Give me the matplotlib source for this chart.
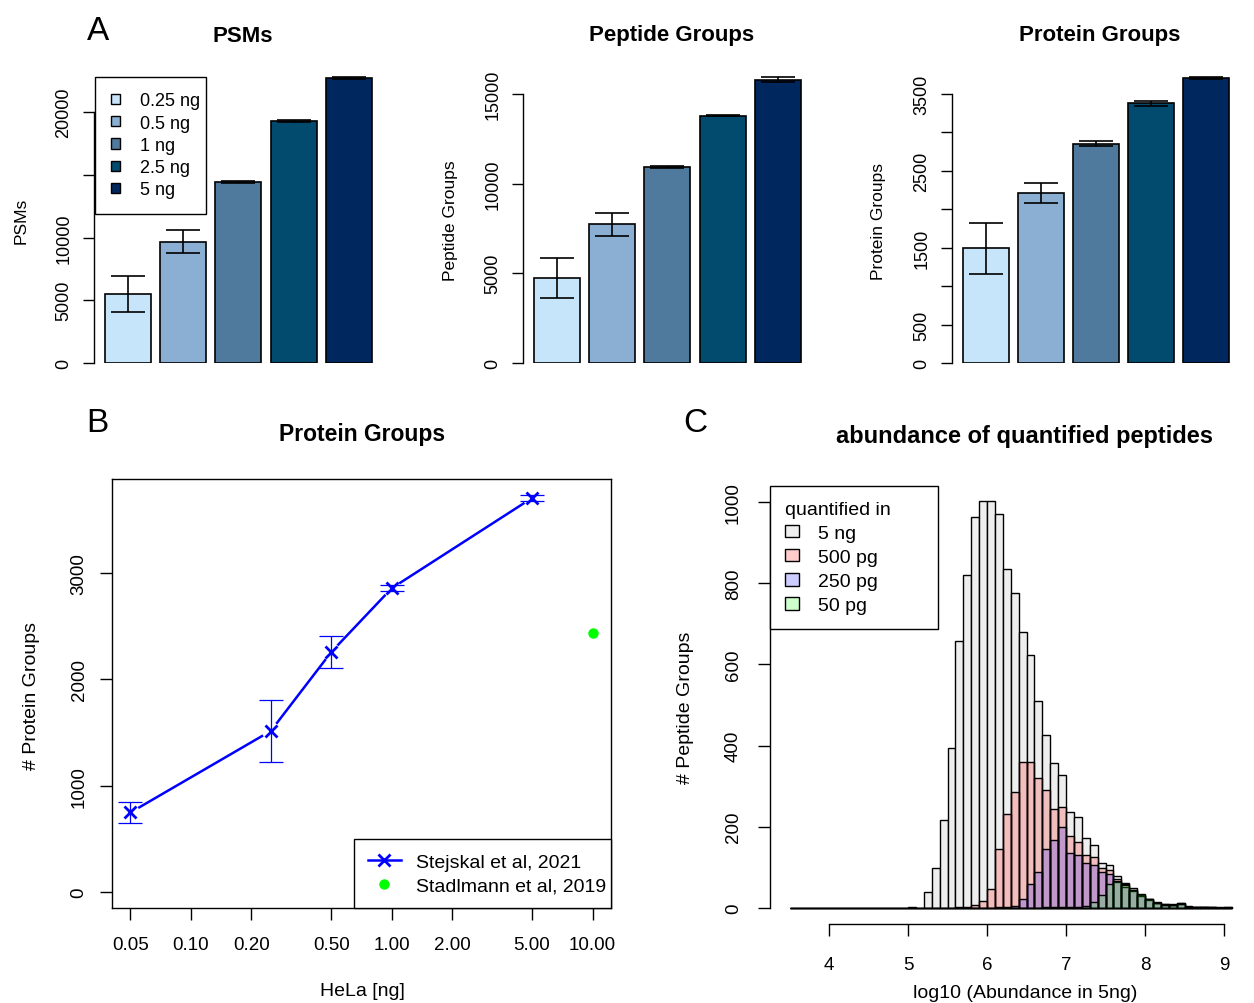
import numpy as np
import matplotlib
matplotlib.use("Agg")
import matplotlib.pyplot as plt
from matplotlib.patches import Patch
from matplotlib.lines import Line2D
from matplotlib.ticker import NullLocator

plt.rcParams["font.family"] = ["Liberation Sans", "DejaVu Sans"]
plt.rcParams["axes.linewidth"] = 1.0

# %% data
# A: barplots (mean, sd)
amounts = ["0.25 ng", "0.5 ng", "1 ng", "2.5 ng", "5 ng"]
amount_colors = ["#C6E4FA", "#8AAFD3", "#4F7A9E", "#024A6E", "#00285E"]

psm_mean = [5510, 9690, 14440, 19320, 22750]
psm_sd = [1410, 900, 80, 80, 60]
pep_mean = [4720, 7720, 10920, 13790, 15800]
pep_sd = [1110, 630, 60, 50, 140]
prot_mean = [1490, 2215, 2855, 3378, 3708]
prot_sd = [330, 130, 28, 30, 12]

# B: protein groups vs HeLa amount
hela_ng = [0.05, 0.25, 0.5, 1, 5]
pg_mean = [749, 1516, 2258, 2858, 3707]
pg_sd = [96, 290, 154, 29, 29]
stad_ng = [10]
stad_pg = [2440]

# C: histogram counts, bins of 0.1 starting at 3.5
bin_lo = 3.5
bin_w = 0.1
cnt_5ng = [0, 0, 0, 0, 0, 0, 0, 0, 0, 0, 0, 0, 0, 0, 0,
           3, 0, 38, 97, 217, 394, 658, 820, 964, 1004,
           1004, 970, 836, 777, 680, 624, 511, 426, 356, 328,
           237, 224, 172, 154, 110, 106, 79, 62, 48, 32,
           22, 15, 10, 9, 13, 4, 1, 3, 1, 1, 1]
cnt_500pg = [0, 0, 0, 0, 0, 0, 0, 0, 0, 0, 0, 0, 0, 0, 0,
             0, 0, 0, 0, 0, 0, 1, 3, 8, 17,
             47, 146, 231, 285, 360, 360, 319, 290, 244, 248,
             177, 161, 129, 124, 98, 93, 72, 58, 45, 31,
             21, 13, 9, 8, 11, 3, 1, 2, 1, 0, 1]
cnt_250pg = [0, 0, 0, 0, 0, 0, 0, 0, 0, 0, 0, 0, 0, 0, 0,
             0, 0, 0, 0, 0, 0, 0, 0, 0, 0,
             0, 1, 2, 4, 22, 59, 89, 145, 168, 198,
             136, 131, 110, 106, 88, 84, 64, 52, 42, 30,
             20, 12, 8, 7, 10, 3, 1, 2, 1, 0, 0]
cnt_50pg = [0, 0, 0, 0, 0, 0, 0, 0, 0, 0, 0, 0, 0, 0, 0,
            0, 0, 0, 0, 0, 0, 0, 0, 0, 0,
            0, 0, 0, 0, 0, 0, 0, 1, 1, 2,
            2, 3, 5, 15, 31, 58, 65, 57, 45, 34,
            22, 12, 7, 7, 9, 2, 1, 2, 0, 0, 0]
hist_labels = ["5 ng", "500 pg", "250 pg", "50 pg"]
hist_colors = ["#EEEEEE", (1, 0, 0, 0.2), (0, 0, 1, 0.2), (0, 1, 0, 0.2)]

# %% figure helpers (pixel layout)
W, H = 1254, 1004
fig = plt.figure(figsize=(W / 100, H / 100), dpi=100)


def px_axes(l, t, r, b):
    return fig.add_axes([l / W, 1 - b / H, (r - l) / W, (b - t) / H])


def px_text(x, y, s, **kw):
    fig.text(x / W, 1 - y / H, s, ha="center", va="center", **kw)


def r_pad(lo, hi):
    pad = 0.04 * (hi - lo)
    return lo - pad, hi + pad


def rot_ylabels(ax):
    for lab in ax.get_yticklabels():
        lab.set_rotation(90)
        lab.set_va("center")


def box_legend(leg):
    leg.get_frame().set_linewidth(1.0)
    return leg


# %% A: bar plots
def bar_panel(ax, means, sds, ticks, shown):
    pos = 0.7 + 1.2 * np.arange(len(means))
    ax.bar(pos, means, width=1, color=amount_colors, edgecolor="black", linewidth=1.2)
    eb = ax.errorbar(pos, means, yerr=sds, fmt="none", ecolor="black",
                     elinewidth=1.2, capsize=12, capthick=1.2)
    for art in list(eb.lines[1]) + list(eb.lines[2]):
        art.set_clip_on(False)
    ax.set_xlim(r_pad(0.2, 6.2))
    ax.set_ylim(0, max(np.array(means) + np.array(sds)))
    for s in ["top", "right", "bottom"]:
        ax.spines[s].set_visible(False)
    ax.spines["left"].set_bounds(ticks[0], ticks[-1])
    ax.set_xticks([])
    ax.set_yticks(ticks)
    ax.set_yticklabels([str(t) if t in shown else "" for t in ticks])
    ax.tick_params(axis="y", length=7.7, width=1, labelsize=13, pad=8)
    rot_ylabels(ax)


ax1 = px_axes(94, 78, 392, 364)
bar_panel(ax1, psm_mean, psm_sd, [0, 5000, 10000, 15000, 20000], [0, 5000, 10000, 20000])
box_legend(ax1.legend([Patch(facecolor=c, edgecolor="black", linewidth=1) for c in amount_colors],
                      amounts, loc="upper left", bbox_to_anchor=(0.005, 1, 111 / 298, 0),
                      mode="expand", borderaxespad=0, fontsize=13, fancybox=False,
                      edgecolor="black", framealpha=1, handlelength=0.5, handleheight=0.5,
                      handletextpad=1.1, labelspacing=0.29, borderpad=0.85))

ax2 = px_axes(523, 78, 821, 364)
bar_panel(ax2, pep_mean, pep_sd, [0, 5000, 10000, 15000], [0, 5000, 10000, 15000])

ax3 = px_axes(952, 78, 1249, 364)
bar_panel(ax3, prot_mean, prot_sd, [0, 500, 1000, 1500, 2000, 2500, 3000, 3500],
          [0, 500, 1500, 2500, 3500])

px_text(98, 31, "A", fontsize=24)
px_text(243, 36, "PSMs", fontsize=16, fontweight="bold")
px_text(672, 36, "Peptide Groups", fontsize=16, fontweight="bold")
px_text(1100, 36, "Protein Groups", fontsize=16, fontweight="bold")
px_text(21, 221, "PSMs", fontsize=12.5, rotation=90)
px_text(450, 221, "Peptide Groups", fontsize=12.5, rotation=90)
px_text(878, 221, "Protein Groups", fontsize=12.5, rotation=90)

# %% B: protein groups vs amount
axb = px_axes(112, 480, 611, 909)
axb.set_xscale("log")
lx = r_pad(np.log10(min(hela_ng + stad_ng)), np.log10(max(hela_ng + stad_ng)))
axb.set_xlim(10 ** lx[0], 10 ** lx[1])
axb.set_ylim(r_pad(0, max(np.array(pg_mean) + np.array(pg_sd))))

# line with gaps around the points (like R type="b")
pts = axb.transData.transform(np.column_stack([hela_ng, pg_mean]))
inv = axb.transData.inverted()
gap = 9
for p1, p2 in zip(pts[:-1], pts[1:]):
    d = p2 - p1
    u = d / np.hypot(*d)
    seg = inv.transform(np.array([p1 + u * gap, p2 - u * gap]))
    axb.plot(seg[:, 0], seg[:, 1], color="blue", lw=1.8, solid_capstyle="butt")
axb.plot(hela_ng, pg_mean, ls="none", marker="x", ms=9, mew=2, color="blue")
eb = axb.errorbar(hela_ng, pg_mean, yerr=pg_sd, fmt="none", ecolor="blue",
                  elinewidth=0.9, capsize=8.6, capthick=0.9)
axb.plot(stad_ng, stad_pg, ls="none", marker="o", ms=6.5, color="#00FF00")

axb.xaxis.set_minor_locator(NullLocator())
xt = [0.05, 0.1, 0.2, 0.5, 1, 2, 5, 10]
axb.set_xticks(xt)
axb.set_xticklabels(["%.2f" % v for v in xt])
axb.set_yticks([0, 1000, 2000, 3000])
axb.tick_params(axis="both", length=8.5, width=1, labelsize=13.5)
axb.tick_params(axis="x", pad=12)
axb.tick_params(axis="y", pad=9)
rot_ylabels(axb)
h1 = Line2D([], [], color="blue", lw=1.8, marker="x", ms=9, mew=2)
h2 = Line2D([], [], ls="none", marker="o", ms=6.5, color="#00FF00")
box_legend(axb.legend([h1, h2], ["Stejskal et al, 2021", "Stadlmann et al, 2019"],
                      loc="lower right", bbox_to_anchor=(1 - 257 / 499, 0, 257 / 499, 0),
                      mode="expand", borderaxespad=0, fontsize=14, fancybox=False,
                      edgecolor="black", framealpha=1, handlelength=1.7,
                      handletextpad=0.8, labelspacing=0.32, borderpad=0.7))

px_text(97, 423, "B", fontsize=24)
px_text(362, 434, "Protein Groups", fontsize=16.5, fontweight="bold")
px_text(32, 696, "# Protein Groups", fontsize=14, rotation=90)
px_text(362, 992, "HeLa [ng]", fontsize=14)

# %% C: histograms
axc = px_axes(770, 487, 1258, 925)
edges = bin_lo + bin_w * np.arange(len(cnt_5ng))
for counts, fc in zip([cnt_5ng, cnt_500pg, cnt_250pg, cnt_50pg], hist_colors):
    axc.bar(edges, counts, width=bin_w, align="edge", facecolor=fc,
            edgecolor="black", linewidth=1.0)
axc.set_xlim(3.253, 9.43)
axc.set_ylim(r_pad(0, 1000))
axc.spines["top"].set_visible(False)
axc.spines["right"].set_visible(False)
axc.spines["left"].set_bounds(0, 1000)
axc.spines["bottom"].set_bounds(4, 9)
axc.set_xticks([4, 5, 6, 7, 8, 9])
axc.set_yticks([0, 200, 400, 600, 800, 1000])
axc.tick_params(axis="both", length=8.3, width=1, labelsize=13.5)
axc.tick_params(axis="x", pad=14.5)
axc.tick_params(axis="y", pad=12)
rot_ylabels(axc)
box_legend(axc.legend([Patch(facecolor=c, edgecolor="black", linewidth=1) for c in hist_colors],
                      hist_labels, title="quantified in", title_fontsize=14, alignment="left",
                      loc="upper left", bbox_to_anchor=(0, 1, 168 / 488, 0), mode="expand",
                      borderaxespad=0, fontsize=14, fancybox=False,
                      edgecolor="black", framealpha=1, handlelength=0.75, handleheight=0.6,
                      handletextpad=0.95, labelspacing=0.37, borderpad=0.75))

px_text(695, 424, "C", fontsize=24)
px_text(1025, 437, "abundance of quantified peptides", fontsize=17, fontweight="bold")
px_text(686, 708, "# Peptide Groups", fontsize=14, rotation=90)
px_text(1025, 994, "log10 (Abundance in 5ng)", fontsize=14)

fig.savefig("out.png", dpi=100)
